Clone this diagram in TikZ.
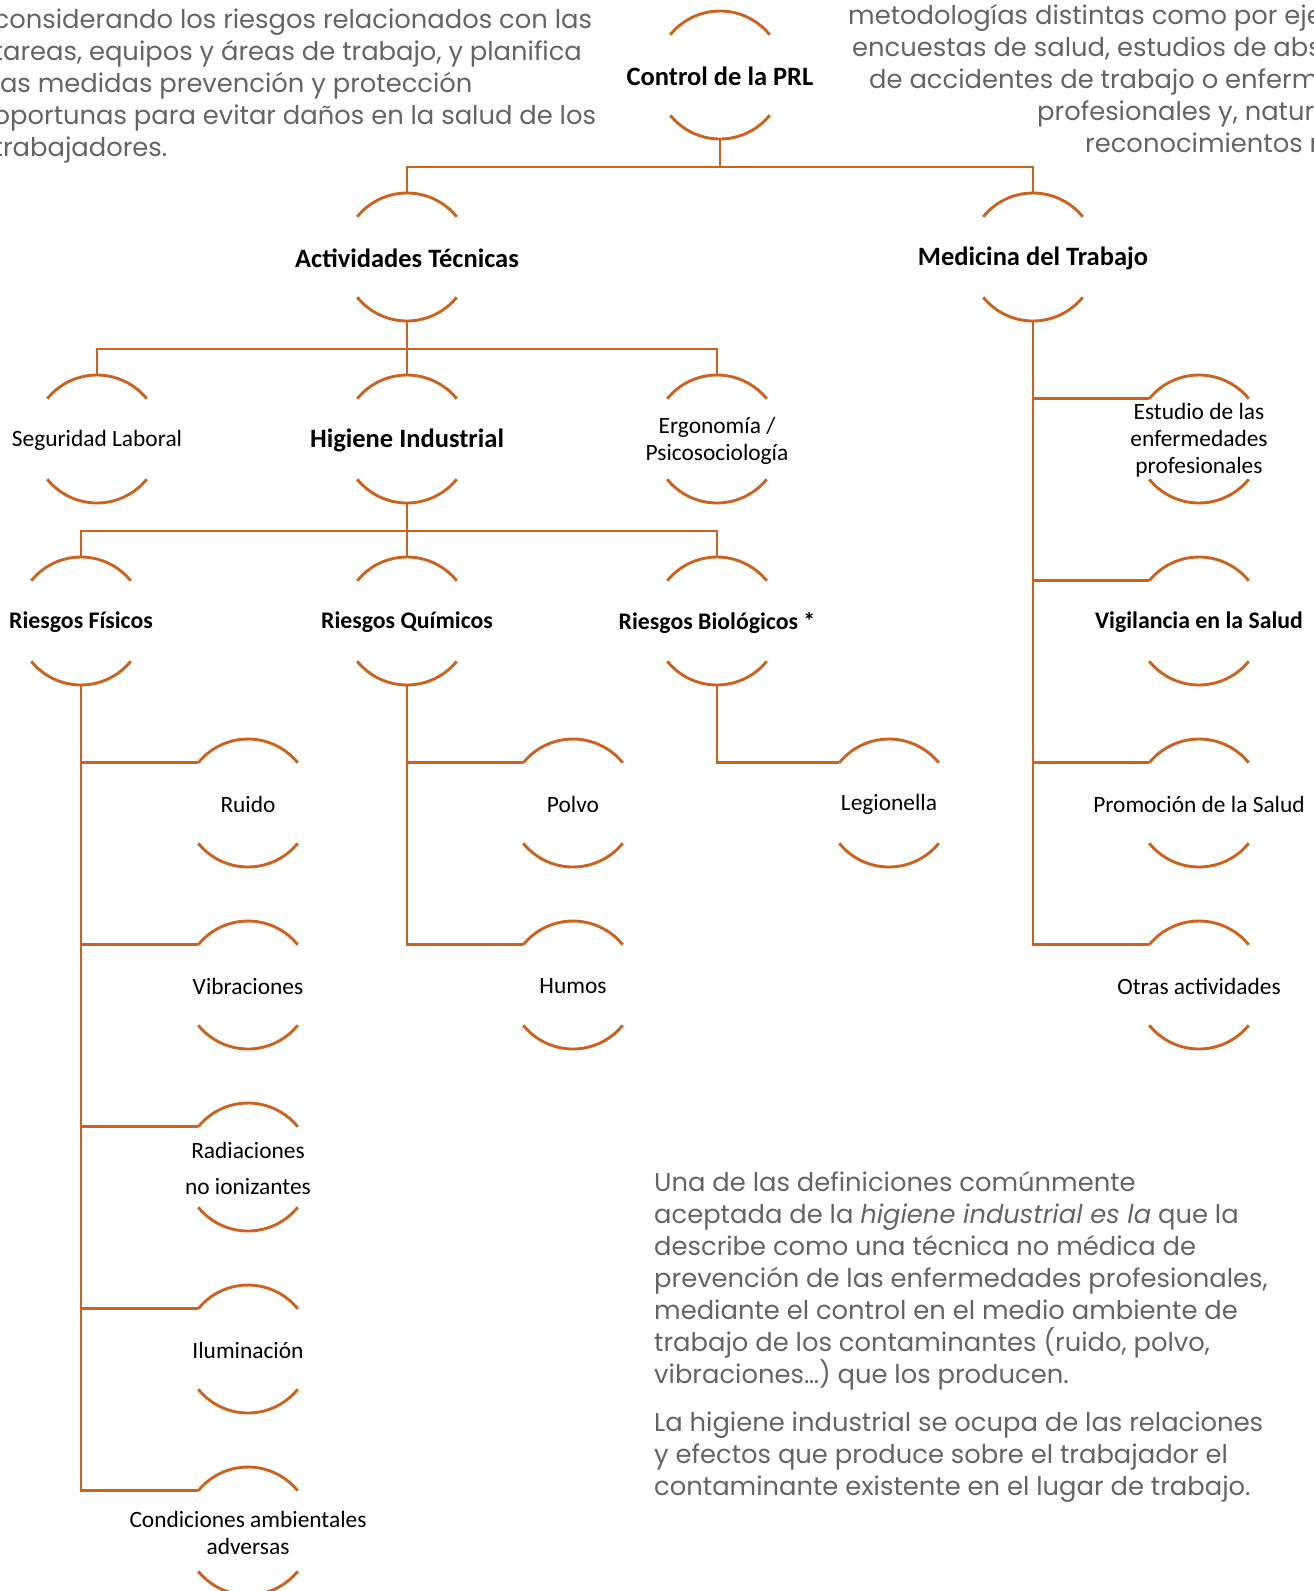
\documentclass[tikz,border=0pt]{standalone}
\usepackage{fontspec}
\setmainfont{Carlito}
\newfontfamily\gothic{Poppins}
\usetikzlibrary{positioning}
\definecolor{naranja}{RGB}{204,98,30}
\definecolor{gristexto}{RGB}{100,100,100}
\tikzset{every node/.append style={transform shape=false}}

\begin{document}
\begin{tikzpicture}[x=1pt,y=1pt,
  linea/.style={draw=naranja, line width=2.9pt},
  circ/.style={circle, minimum size=128pt, inner sep=0pt, outer sep=0pt},
  lab/.style={font=\fontsize{23.4}{27}\selectfont, align=center, inner sep=0pt, yshift=-1.5pt},
  labb/.style={lab, font=\fontsize{23.8}{27}\selectfont\bfseries},
  labg/.style={lab, font=\fontsize{26.5}{30}\selectfont\bfseries},
  gris/.style={font=\gothic\fontsize{25.8}{32}\selectfont, text=gristexto, inner sep=0pt, anchor=base west}]
  \useasboundingbox (0,0) rectangle (1314,-1591);

  % textos de fondo
  \foreach \t [count=\i] in {considerando los riesgos relacionados con las, {tareas, equipos y áreas de trabajo, y planifica}, las medidas prevención y protección, oportunas para evitar daños en la salud de los, trabajadores.}
    \node[gris] (izq\i) at (-6.5,{-28.5-32*(\i-1)}) {\t};
  \foreach \x/\t [count=\i] in {848/{metodologías distintas como por ejemplo}, 852/{encuestas de salud, estudios de absentismo}, 869/{de accidentes de trabajo o enfermedades}, 1037/{profesionales y, naturalmente,}, 1085/{reconocimientos médicos.}}
    \node[gris] (der\i) at (\x,{-24-32*(\i-1)}) {\t};

  % arbol
  \node[circ, label={[labg]center:Control de la PRL}] (ctrl) at (720,-75) {};
  \node[circ, label={[labg]center:Actividades Técnicas}] (act) at (407,-257) {};
  \node[circ, label={[labg]center:Medicina del Trabajo}] (med) at (1033,-257) {};
  \node[circ, label={[lab]center:Seguridad Laboral}] (seg) at (97,-439) {};
  \node[circ, label={[labg]center:Higiene Industrial}] (hig) at (407,-439) {};
  \node[circ, label={[lab]center:{Ergonomía /\\Psicosociología}}] (erg) at (717,-439) {};
  \node[circ, label={[labb]center:Riesgos Físicos}] (rfis) at (81,-621) {};
  \node[circ, label={[labb]center:Riesgos Químicos}] (rqui) at (407,-621) {};
  \node[circ, label={[labb]center:Riesgos Biológicos *}] (rbio) at (717,-621) {};
  \node[circ, label={[lab]center:Ruido}] (ruido) at (248,-803) {};
  \node[circ, label={[lab]center:Vibraciones}] (vibr) at (248,-985) {};
  \node[circ, label={[lab]center:{Radiaciones\\[8.5pt]no ionizantes}}] (radi) at (248,-1167) {};
  \node[circ, label={[lab]center:Iluminación}] (ilum) at (248,-1349) {};
  \node[circ, label={[lab]center:{Condiciones ambientales\\adversas}}] (cond) at (248,-1531) {};
  \node[circ, label={[lab]center:Polvo}] (polvo) at (573,-803) {};
  \node[circ, label={[lab]center:Humos}] (humos) at (573,-985) {};
  \node[circ, label={[lab]center:Legionella}] (legio) at (889,-803) {};
  \node[circ, label={[lab]center:{Estudio de las\\enfermedades\\profesionales}}] (estu) at (1199,-439) {};
  \node[circ, label={[labb]center:Vigilancia en la Salud}] (vigi) at (1199,-621) {};
  \node[circ, label={[lab]center:Promoción de la Salud}] (promo) at (1199,-803) {};
  \node[circ, label={[lab]center:Otras actividades}] (otras) at (1199,-985) {};

  \foreach \n in {ctrl,act,med,seg,hig,erg,rfis,rqui,rbio,ruido,vibr,radi,ilum,cond,polvo,humos,legio,estu,vigi,promo,otras}{
    \draw[linea] (\n.141) arc[start angle=141, end angle=39, radius=64pt];
    \draw[linea] (\n.-141) arc[start angle=-141, end angle=-39, radius=64pt];
  }

  \draw[linea] (ctrl.south) -- ++(0,-28) -| (act.north);
  \draw[linea] (ctrl.south) -- ++(0,-28) -| (med.north);
  \foreach \n in {seg,hig,erg} \draw[linea] (act.south) -- ++(0,-28) -| (\n.north);
  \foreach \n in {rfis,rqui,rbio} \draw[linea] (hig.south) -- ++(0,-28) -| (\n.north);
  \foreach \n in {ruido,vibr,radi,ilum,cond} \draw[linea] (rfis.south) |- (\n.141);
  \foreach \n in {polvo,humos} \draw[linea] (rqui.south) |- (\n.141);
  \draw[linea] (rbio.south) |- (legio.141);
  \foreach \n in {estu,vigi,promo,otras} \draw[linea] (med.south) |- (\n.141);

  % definicion
  \foreach \t [count=\i] in {Una de las definiciones comúnmente, aceptada de la \textit{higiene industrial es la} que la, describe como una técnica no médica de, {prevención de las enfermedades profesionales,}, mediante el control en el medio ambiente de, {trabajo de los contaminantes (ruido, polvo,}, vibraciones…) que los producen.}
    \node[gris] (def\i) at (654,{-1191-32*(\i-1)}) {\t};
  \foreach \t [count=\i] in {La higiene industrial se ocupa de las relaciones, y efectos que produce sobre el trabajador el, contaminante existente en el lugar de trabajo.}
    \node[gris] (hig\i) at (654,{-1431-32*(\i-1)}) {\t};
\end{tikzpicture}
\end{document}
